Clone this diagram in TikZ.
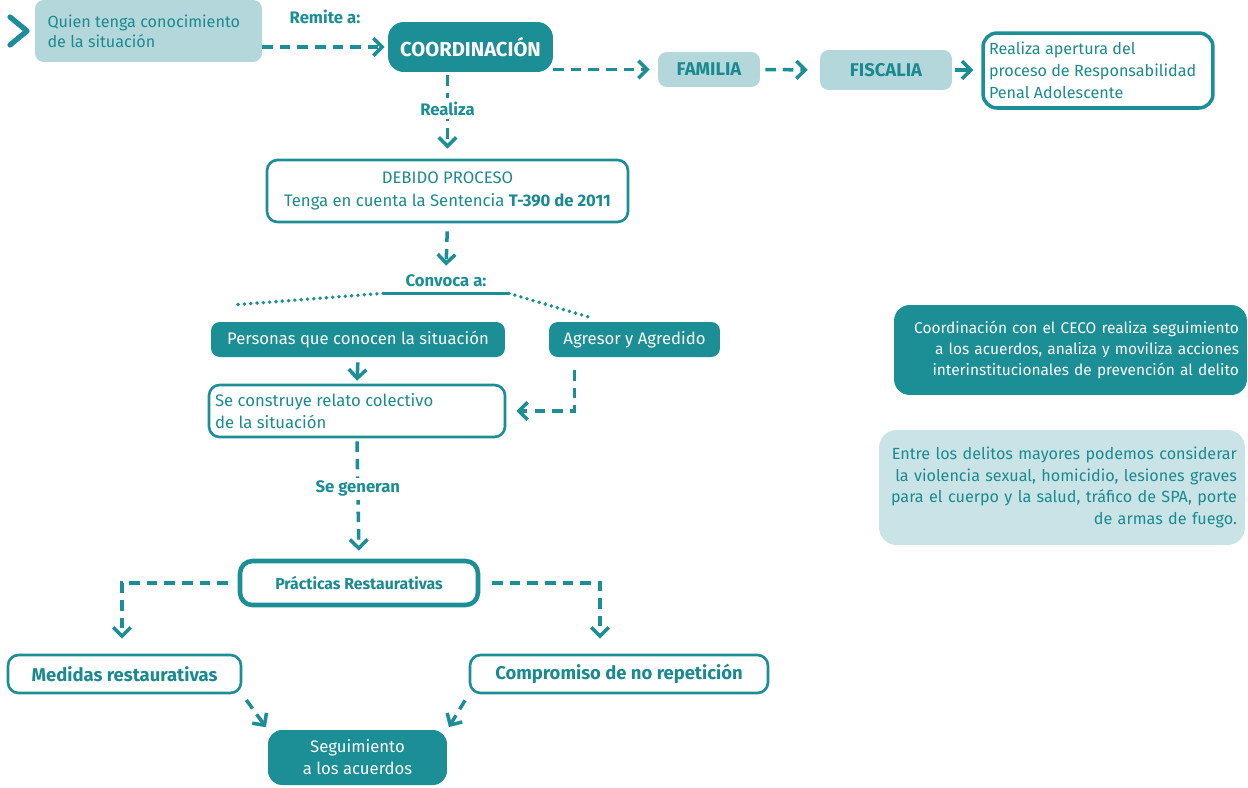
\documentclass[tikz,border=0pt]{standalone}
\usepackage{fontspec}
\setmainfont{Fira Sans}
\usetikzlibrary{arrows.meta,positioning}
\definecolor{tealdark}{HTML}{1B8F95}
\definecolor{teallight}{HTML}{B4D7DB}
\definecolor{tealpale}{HTML}{C9E3E6}
\definecolor{tealtext}{HTML}{1A8A90}
\tikzset{
	base/.style={font=\fontsize{9.5}{11.5}\selectfont, inner sep=0pt, align=center},
	darkbox/.style={base, fill=tealdark, text=white, rounded corners=7pt},
	lightbox/.style={base, fill=teallight, text=tealtext, rounded corners=5pt},
	linebox/.style={base, draw=tealdark, line width=1.5pt, text=tealtext, rounded corners=6pt},
	lbl/.style={font=\fontsize{9.5}{11.5}\selectfont\bfseries, text=tealdark, fill=white, inner sep=2pt},
	dashline/.style={draw=tealdark, line width=2pt, dash pattern=on 6pt off 4pt},
	dotline/.style={draw=tealdark, line width=2.2pt, line cap=round, dash pattern=on 0pt off 3.6pt},
	arr/.style={-{Straight Barb[length=5pt,width=10pt]}}
}

\begin{document}
\begin{tikzpicture}[x=0.02cm, y=-0.02cm]
	\useasboundingbox (0,0) rectangle (1248,788);

	% Top row
	\draw[tealdark, line width=3pt, line cap=round, line join=round] (10,17) -- (27,31) -- (10,45);
	\node[lightbox, align=flush left, font=\fontsize{9.2}{11.5}\selectfont, text width=4.04cm, inner xsep=0.25cm, minimum height=1.24cm] (quien) at (148.5,31) {Quien tenga conocimiento\\de la situación};
	\node[darkbox, font=\fontsize{11.5}{13}\selectfont\bfseries, rounded corners=9pt, minimum width=3.3cm, minimum height=1cm] (coord) at (470.5,47) {COORDINACIÓN};
	\node[lightbox, font=\fontsize{10.5}{12}\selectfont\bfseries, minimum width=2.04cm, minimum height=0.7cm] (familia) at (709,69.5) {FAMILIA};
	\node[lightbox, font=\fontsize{10.5}{12}\selectfont\bfseries, minimum width=2.64cm, minimum height=0.8cm] (fiscalia) at (886,70) {FISCALIA};
	\node[linebox, align=flush left, font=\fontsize{9.2}{12.5}\selectfont, rounded corners=8pt, line width=2pt, text width=4.36cm, inner xsep=0.12cm, minimum height=1.5cm] (apertura) at (1098,70.5) {Realiza apertura del\\proceso de Responsabilidad\\Penal Adolescente};

	\draw[dashline, arr, shorten >=0.06cm] (coord.west -| quien.east) -- (coord.west) node[lbl, midway, above=0.35cm] {Remite a:};
	\draw[dashline, arr, shorten >=0.16cm] (coord.south east |- familia.west) -- (familia.west);
	\draw[dashline, arr, shorten <=0.1cm, shorten >=0.24cm] (familia.east) -- (fiscalia.west);
	\draw[tealdark, line width=2pt, arr, shorten <=0.06cm, shorten >=0.16cm] (fiscalia.east) -- (apertura.west |- fiscalia.east);

	% Middle column
	\node[linebox, font=\fontsize{9.5}{13.5}\selectfont, minimum width=7.22cm, minimum height=1.24cm] (debido) at (447.5,191) {DEBIDO PROCESO\\Tenga en cuenta la Sentencia \textbf{T-390 de 2011}};
	\draw[dashline, arr, shorten <=0.06cm, shorten >=0.2cm] (coord.south -| debido.north) -- (debido.north) node[lbl, pos=0.42] {Realiza};

	\node[lbl, fill=none, inner sep=0pt, minimum width=2.5cm, minimum height=0.48cm] (convoca) at (446,281) {Convoca a:};
	\draw[dashline, arr, shorten <=0.16cm, shorten >=0.06cm] (debido.south) -- (convoca.north);
	\draw[tealdark, line width=2pt] (convoca.south west) -- (convoca.south east);
	\coordinate (dl) at (232,305);
	\coordinate (dr) at (592,318);
	\draw[dotline] (convoca.south west) -- (dl);
	\draw[dotline] (convoca.south east) -- (dr);

	\node[darkbox, minimum width=5.88cm, minimum height=0.7cm, rounded corners=5pt] (personas) at (358,339.5) {Personas que conocen la situación};
	\node[darkbox, minimum width=3.42cm, minimum height=0.7cm, rounded corners=5pt] (agresor) at (634.5,339.5) {Agresor y Agredido};
	\node[linebox, align=flush left, font=\fontsize{9.5}{12.5}\selectfont, text width=5.68cm, inner xsep=0.12cm, minimum height=1.04cm] (relato) at (357,411) {Se construye relato colectivo\\de la situación};

	\draw[tealdark, line width=2pt, arr, shorten <=0.1cm, shorten >=0.06cm] (personas.south) -- (relato.north);
	\draw[dashline, arr, shorten >=0.2cm] ([shift={(26,13)}]agresor.south west) |- (relato.east);

	\node[linebox, font=\fontsize{9}{11}\selectfont\bfseries, line width=2.6pt, rounded corners=7pt, minimum width=4.76cm, minimum height=0.88cm] (practicas) at (359,583) {Prácticas Restaurativas};
	\draw[dashline, arr, shorten <=0.06cm, shorten >=0.16cm] (relato.south) -- (practicas.north) node[lbl, pos=0.42] {Se generan};

	% Bottom row
	\node[linebox, font=\fontsize{10.5}{12}\selectfont\bfseries, minimum width=4.66cm, minimum height=0.76cm] (medidas) at (124.5,674) {Medidas restaurativas};
	\node[linebox, font=\fontsize{10.5}{12}\selectfont\bfseries, minimum width=5.96cm, minimum height=0.76cm] (compromiso) at (619,674) {Compromiso de no repetición};
	\node[darkbox, font=\fontsize{9.5}{12.5}\selectfont, rounded corners=8pt, minimum width=3.58cm, minimum height=1.1cm] (seguim) at (357.5,757.5) {Seguimiento\\a los acuerdos};

	\draw[dashline, arr, shorten <=0.2cm, shorten >=0.3cm] (practicas.west) -| ([xshift=-0.05cm]medidas.north);
	\draw[dashline, arr, shorten <=0.24cm, shorten >=0.3cm] (practicas.east) -| ([xshift=-0.38cm]compromiso.north);
	\draw[dashline, arr, shorten <=0.14cm, shorten >=0.06cm] (medidas.south east) -- (seguim.north west);
	\draw[dashline, arr, shorten <=0.14cm, shorten >=0.06cm] (compromiso.south west) -- (seguim.north east);

	% Side notes
	\node[darkbox, align=right, font=\fontsize{8.8}{12}\selectfont, rounded corners=9pt, text width=6.74cm, inner xsep=0.16cm, minimum height=1.8cm] (ceco) at (1070.5,350) {Coordinación con el CECO realiza seguimiento\\a los acuerdos, analiza y moviliza acciones\\interinstitucionales de prevención al delito};
	\node[base, fill=tealpale, text=tealtext, align=right, font=\fontsize{9.2}{12.3}\selectfont, rounded corners=10pt, text width=7.0cm, inner xsep=0.16cm, minimum height=2.3cm] (delitos) at (1062,487.5) {Entre los delitos mayores podemos considerar\\la violencia sexual, homicidio, lesiones graves\\para el cuerpo y la salud, tráfico de SPA, porte\\de armas de fuego.};

\end{tikzpicture}
\end{document}
